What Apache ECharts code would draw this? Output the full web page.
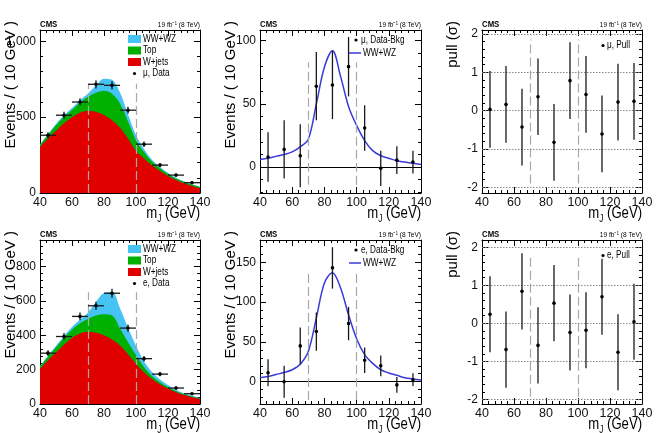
<!DOCTYPE html>
<html>
<head>
<meta charset="utf-8">
<script src="https://cdn.jsdelivr.net/npm/echarts@6/dist/echarts.min.js"></script>
<style>
  html, body { margin: 0; padding: 0; background: #fff; }
  #chart { width: 656px; height: 433px; }
</style>
</head>
<body>
<div id="chart"></div>
<script>
// bins and sampling of the fit curves (GeV)
const binCentres = [45, 55, 65, 75, 85, 95, 105, 115, 125, 135];
const curveMass = [40, 45, 50, 55, 60, 65, 70, 75, 80, 85, 90, 95, 100, 105, 110, 115, 120, 125, 130, 135, 140];
const cutLines = [70, 100];
const binHalfWidth = 5;

// muon channel
const muData = [381, 513, 600, 717, 710, 546, 322, 184, 118, 68];
const muErr = [19.5, 23, 25, 27, 27, 23.5, 18, 14, 11, 9];
const muWjets = [305, 360, 410, 460, 500, 530, 540, 535, 515, 480, 430, 360, 278, 228, 183, 145, 112, 85, 64, 46, 32];
const muTop = [10, 22, 37, 42, 48, 66, 94, 126, 160, 175, 160, 112, 70, 42, 24, 18, 14, 11, 9, 8, 7];
const muDiboson = [6, 7, 8.5, 10, 12, 16, 22, 50, 79, 92, 72, 48, 33, 21, 13, 9, 7, 5, 4, 3, 2];
const muSub = [8, 14, 9, 64, 65, 79.5, 31, -1, 5.5, 4];
const muPull = [0.03, 0.16, -0.43, 0.36, -0.83, 0.78, 0.42, -0.61, 0.22, 0.24];

// electron channel
const eData = [296, 393, 510, 572, 645, 442, 264, 174, 93, 60];
const eErr = [17, 20, 23, 24, 26, 21, 16, 13, 10, 8];
const eWjets = [205, 255, 300, 345, 385, 410, 420, 415, 400, 375, 340, 290, 235, 185, 145, 115, 90, 68, 52, 40, 30];
const eTop = [12, 20, 30, 40, 48, 60, 75, 100, 122, 140, 100, 70, 50, 30, 18, 12, 9, 7, 5, 4, 3];
const eDiboson = [5, 6.5, 9, 11.5, 15, 22, 38, 80, 124, 137, 118, 84, 54, 34, 23, 15, 11, 8, 5, 3.5, 2];
const eSub = [11.3, 0, 45, 63, 143, 73, 27, 20, -4, 2.5];
const ePull = [0.24, -0.69, 0.84, -0.58, 0.53, -0.24, -0.18, 0.70, -0.76, 0.04];
const pullErr = 1;

// axis tick labels
const xTicks = [40, 60, 80, 100, 120, 140];
const yTicksMuStack = [0, 500, 1000];
const yTicksEStack = [0, 200, 400, 600, 800];
const yTicksMuSub = [0, 50, 100];
const yTicksESub = [0, 50, 100, 150];
const yTicksPull = [-2, -1, 0, 1, 2];

const FONT = '"Liberation Sans", Arial, Helvetica, sans-serif';
const SQUASH = 0.82; // the original figure is a bit narrower than tall
const COLORS = { diboson: '#45c3f2', top: '#00b000', wjets: '#e00000', fit: '#3a3ad8', cut: '#a8a8a8' };

const panels = [
  { left: 40, top: 30, width: 160, height: 163, min: 0, max: 1075, ticks: yTicksMuStack, minor: 100, cutTop: 720, cutBottom: 0 },
  { left: 260, top: 30, width: 161, height: 163, min: -20.5, max: 108.5, ticks: yTicksMuSub, minor: 10, cutTop: 83, cutBottom: -14 },
  { left: 482, top: 30, width: 160, height: 163, min: -2.15, max: 2.1, ticks: yTicksPull, minor: 0.2, cutTop: 1.85, cutBottom: -1.9 },
  { left: 40, top: 240, width: 160, height: 164, min: 0, max: 955, ticks: yTicksEStack, minor: 40, cutTop: 651, cutBottom: 0 },
  { left: 260, top: 240, width: 161, height: 164, min: -28, max: 178, ticks: yTicksESub, minor: 10, cutTop: 137, cutBottom: -23 },
  { left: 482, top: 240, width: 160, height: 164, min: -2.12, max: 2.19, ticks: yTicksPull, minor: 0.2, cutTop: 1.82, cutBottom: -1.93 }
];

function minorValues(p) {
  const out = [];
  const start = Math.ceil(p.min / p.minor - 1e-9);
  for (let k = start; k * p.minor <= p.max + 1e-9; k++) {
    const v = Math.round(k * p.minor * 1000) / 1000;
    if (p.ticks.indexOf(v) < 0) out.push(v);
  }
  return out;
}

const grids = [];
const xAxes = [];
const yAxes = [];
panels.forEach((p, i) => {
  grids.push({ left: p.left, top: p.top, width: p.width, height: p.height, containLabel: false });
  ['bottom', 'top'].forEach(pos => {
    xAxes.push({
      gridIndex: i, type: 'value', position: pos, min: 40, max: 140, interval: 20,
      axisLine: { show: true, onZero: false, lineStyle: { color: '#000', width: 1 } },
      axisTick: { show: true, inside: true, length: 6, lineStyle: { color: '#000' } },
      minorTick: { show: true, splitNumber: 5, length: 3, lineStyle: { color: '#000' } },
      axisLabel: { show: pos === 'bottom', customValues: xTicks, fontSize: 12.5, margin: 3, color: '#111', fontFamily: FONT },
      splitLine: { show: false }
    });
  });
  const minors = minorValues(p);
  ['left', 'right'].forEach(pos => {
    yAxes.push({
      gridIndex: i, type: 'value', position: pos, min: p.min, max: p.max,
      axisLine: { show: true, onZero: false, lineStyle: { color: '#000', width: 1 } },
      axisTick: { show: true, inside: true, length: 6, customValues: p.ticks, lineStyle: { color: '#000' } },
      axisLabel: { show: pos === 'left', customValues: p.ticks, fontSize: 12, margin: 4, color: '#111', fontFamily: FONT },
      splitLine: { show: false }
    });
    yAxes.push({
      gridIndex: i, type: 'value', position: pos, min: p.min, max: p.max,
      axisLine: { show: false },
      axisTick: { show: true, inside: true, length: 3, customValues: minors, lineStyle: { color: '#000' } },
      axisLabel: { show: false },
      splitLine: { show: false }
    });
  });
});

function errorBars(xErr) {
  return function (params, api) {
    const x = api.value(0), y = api.value(1), e = api.value(2);
    const c = api.coord([x, y]);
    const lo = api.coord([x, y - e]);
    const hi = api.coord([x, y + e]);
    const style = { stroke: '#1a1a1a', lineWidth: 1.3 };
    const children = [{ type: 'line', shape: { x1: c[0], y1: lo[1], x2: c[0], y2: hi[1] }, style }];
    if (xErr) {
      const l = api.coord([x - xErr, y]);
      const r = api.coord([x + xErr, y]);
      children.push({ type: 'line', shape: { x1: l[0], y1: c[1], x2: r[0], y2: c[1] }, style });
    }
    children.push({ type: 'circle', shape: { cx: c[0], cy: c[1], r: 1.8 }, style: { fill: '#000' } });
    return { type: 'group', children };
  };
}

function cutMarks(p) {
  return cutLines.map(m => [
    { coord: [m, p.cutBottom], lineStyle: { color: COLORS.cut, type: [9, 4], width: 1.2 } },
    { coord: [m, p.cutTop] }
  ]);
}

function pointSeries(i, vals, errs, xErr, extraMarks) {
  return {
    type: 'custom', xAxisIndex: 2 * i, yAxisIndex: 4 * i, z: 5,
    renderItem: errorBars(xErr),
    data: binCentres.map((x, k) => [x, vals[k], Array.isArray(errs) ? errs[k] : errs]),
    encode: { x: 0, y: 1 },
    markLine: {
      silent: true, symbol: ['none', 'none'], label: { show: false }, animation: false,
      data: cutMarks(panels[i]).concat(extraMarks || [])
    }
  };
}

// stacked backgrounds: each layer is drawn as the running total, back to front
function stackSeries(i, wjets, top, diboson) {
  const wjTop = wjets.map((v, k) => v + top[k]);
  const all = wjTop.map((v, k) => v + diboson[k]);
  const layers = [[all, COLORS.diboson], [wjTop, COLORS.top], [wjets, COLORS.wjets]];
  return layers.map(([vals, col], n) => ({
    type: 'line', xAxisIndex: 2 * i, yAxisIndex: 4 * i, z: 2 + n * 0.01,
    smooth: 0.35, symbol: 'none', lineStyle: { width: 0 },
    areaStyle: { color: col, opacity: 1, origin: 'start' },
    data: curveMass.map((m, k) => [m, vals[k]])
  }));
}

function fitSeries(i, vals) {
  return {
    type: 'line', xAxisIndex: 2 * i, yAxisIndex: 4 * i, z: 4,
    smooth: 0.35, symbol: 'none', lineStyle: { color: COLORS.fit, width: 1.5 },
    data: curveMass.map((m, k) => [m, vals[k]]),
    markLine: {
      silent: true, symbol: ['none', 'none'], label: { show: false }, animation: false,
      data: [{ yAxis: 0, lineStyle: { color: '#000', type: 'solid', width: 1.2 } }]
    }
  };
}

const pullLines = yTicksPull.map(v => ({ yAxis: v, lineStyle: { color: '#888', type: [1.5, 1.5], width: 1 } }));

const series = [].concat(
  stackSeries(0, muWjets, muTop, muDiboson),
  [pointSeries(0, muData, muErr, binHalfWidth)],
  [fitSeries(1, muDiboson), pointSeries(1, muSub, muErr, 0)],
  [pointSeries(2, muPull, pullErr, 0, pullLines)],
  stackSeries(3, eWjets, eTop, eDiboson),
  [pointSeries(3, eData, eErr, binHalfWidth)],
  [fitSeries(4, eDiboson), pointSeries(4, eSub, eErr, 0)],
  [pointSeries(5, ePull, pullErr, 0, pullLines)]
);

// decorations: CMS labels, axis titles, legends
const graphic = [];
function txt(x, y, text, o) {
  graphic.push({
    type: 'text', x, y, scaleX: SQUASH, silent: true, z: 10,
    style: Object.assign({ text, fill: '#000', fontFamily: FONT, fontSize: 10 }, o || {})
  });
}
const mjRich = {
  a: { fontSize: 16, fontFamily: FONT, lineHeight: 20 },
  s: { fontSize: 10, fontFamily: FONT, lineHeight: 14, verticalAlign: 'bottom' }
};
panels.forEach((p, i) => {
  const right = p.left + p.width;
  txt(p.left, p.top - 1, 'CMS', { fontWeight: 'bold', fontSize: 9.5, verticalAlign: 'bottom' });
  txt(right, p.top - 1, '19 fb\u207B\u00B9 (8 TeV)', { fontSize: 8, align: 'right', verticalAlign: 'bottom' });
  graphic.push({
    type: 'text', x: right, y: p.top + p.height + 21, scaleX: SQUASH, silent: true,
    style: { text: '{a|m}{s|J}{a| (GeV)}', rich: mjRich, align: 'right', verticalAlign: 'middle', fill: '#000' }
  });
  const yTitle = (i % 3 === 2) ? 'pull (\u03C3)' : 'Events / ( 10 GeV )';
  graphic.push({
    type: 'text', x: p.left - 29, y: p.top - 9, rotation: Math.PI / 2, silent: true,
    style: { text: yTitle, fontSize: 15, fontFamily: FONT, fill: '#000', align: 'right', verticalAlign: 'middle' }
  });
});

function stackLegend(p, lep) {
  const right = p.left + p.width;
  const rows = [[COLORS.diboson, 'WW+WZ'], [COLORS.top, 'Top'], [COLORS.wjets, 'W+jets']];
  rows.forEach(([col, label], k) => {
    const cy = p.top + 9 + k * 11.5;
    graphic.push({ type: 'rect', silent: true, z: 10, shape: { x: right - 72, y: cy - 4, width: 13, height: 8 }, style: { fill: col } });
    txt(right - 57, cy, label, { verticalAlign: 'middle' });
  });
  const cy = p.top + 9 + 3 * 11.5;
  graphic.push({ type: 'circle', silent: true, z: 10, shape: { cx: right - 65.5, cy, r: 1.6 }, style: { fill: '#000' } });
  txt(right - 57, cy, lep + ', Data', { verticalAlign: 'middle' });
}
function subLegend(p, lep) {
  const right = p.left + p.width;
  const cy = p.top + 10;
  graphic.push({ type: 'circle', silent: true, z: 10, shape: { cx: right - 65, cy, r: 1.6 }, style: { fill: '#000' } });
  txt(right - 60, cy, lep + ', Data-Bkg', { verticalAlign: 'middle' });
  graphic.push({ type: 'line', silent: true, z: 10, shape: { x1: right - 72, y1: cy + 13, x2: right - 60, y2: cy + 13 }, style: { stroke: COLORS.fit, lineWidth: 1.5 } });
  txt(right - 58, cy + 13, 'WW+WZ', { verticalAlign: 'middle' });
}
function pullLegend(p, lep) {
  const right = p.left + p.width;
  const cy = p.top + 15.5;
  graphic.push({ type: 'circle', silent: true, z: 10, shape: { cx: right - 39, cy, r: 1.6 }, style: { fill: '#000' } });
  txt(right - 35, cy, lep + ', Pull', { verticalAlign: 'middle' });
}
stackLegend(panels[0], '\u03BC');
subLegend(panels[1], '\u03BC');
pullLegend(panels[2], '\u03BC');
stackLegend(panels[3], 'e');
subLegend(panels[4], 'e');
pullLegend(panels[5], 'e');

const chart = echarts.init(document.getElementById('chart'), null, { renderer: 'canvas' });
chart.setOption({
  animation: false,
  backgroundColor: '#fff',
  grid: grids,
  xAxis: xAxes,
  yAxis: yAxes,
  series: series,
  graphic: graphic
});
</script>
</body>
</html>
